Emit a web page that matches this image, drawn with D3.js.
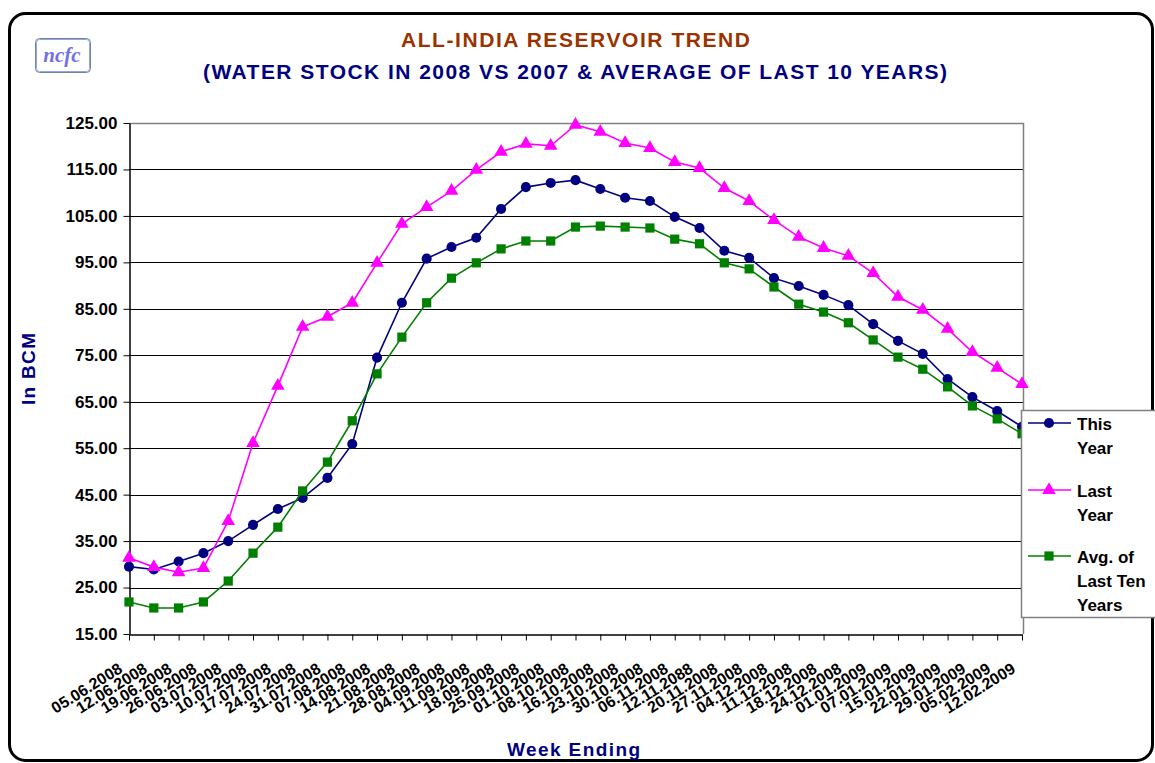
<!DOCTYPE html>
<html><head><meta charset="utf-8">
<script src="https://cdn.jsdelivr.net/npm/d3@7/dist/d3.min.js"></script>
<style>html,body{margin:0;padding:0;background:#fff;}svg{display:block;font-family:"Liberation Sans",Arial,sans-serif;}</style>
</head><body>
<svg id="c" width="1155" height="763"></svg>
<script>
const weeks = ["05.06.2008","12.06.2008","19.06.2008","26.06.2008","03.07.2008","10.07.2008","17.07.2008","24.07.2008","31.07.2008","07.08.2008","14.08.2008","21.08.2008","28.08.2008","04.09.2008","11.09.2008","18.09.2008","25.09.2008","01.10.2008","08.10.2008","16.10.2008","23.10.2008","30.10.2008","06.11.2008","12.11.2088","20.11.2008","27.11.2008","04.12.2008","11.12.2008","18.12.2008","24.12.2008","01.01.2009","07.01.2009","15.01.2009","22.01.2009","29.01.2009","05.02.2009","12.02.2009"];
const thisYear = [29.5,28.9,30.6,32.4,35.0,38.5,41.9,44.3,48.6,55.9,74.5,86.3,95.8,98.3,100.3,106.5,111.2,112.1,112.7,110.8,108.9,108.2,104.8,102.4,97.5,96.0,91.6,89.9,88.0,85.8,81.7,78.1,75.3,69.9,66.0,63.0,59.6];
const lastYear = [31.4,29.4,28.3,29.2,39.3,56.1,68.4,81.1,83.3,86.3,94.9,103.3,106.9,110.4,114.9,118.8,120.5,120.1,124.6,123.1,120.7,119.6,116.6,115.3,111.0,108.2,104.1,100.5,98.1,96.4,92.7,87.6,84.8,80.7,75.7,72.3,68.8];
const avgTen = [21.9,20.6,20.6,21.9,26.4,32.4,38.0,45.8,52.0,60.9,71.0,78.9,86.3,91.6,94.9,97.9,99.6,99.6,102.6,102.8,102.6,102.4,100.0,99.0,94.9,93.6,89.7,86.0,84.3,82.0,78.3,74.6,72.0,68.2,64.1,61.3,58.1];
const yTicks = [15,25,35,45,55,65,75,85,95,105,115,125];
const seriesNames = [["This","Year"],["Last","Year"],["Avg. of","Last Ten","Years"]];

const svg = d3.select("#c");
const L=129, R=1022, T=123, B=634;
const x = d3.scalePoint().domain(weeks).range([L,R]);
const y = d3.scaleLinear().domain([15,125]).range([B,T]);

// frame
svg.append("rect").attr("x",9.5).attr("y",13.5).attr("width",1143).attr("height",747).attr("rx",16)
  .attr("fill","none").attr("stroke","#000").attr("stroke-width",3);

// logo
svg.append("rect").attr("x",35.5).attr("y",38.5).attr("width",55).attr("height",34).attr("rx",4)
  .attr("fill","#fff").attr("stroke","#6c8a8a").attr("stroke-width",1);
svg.append("rect").attr("x",36.5).attr("y",39.5).attr("width",53).attr("height",32).attr("rx",3)
  .attr("fill","none").attr("stroke","#9aa0f0").attr("stroke-width",1);
svg.append("text").attr("x",62).attr("y",62).attr("text-anchor","middle")
  .attr("font-family","'Liberation Serif','DejaVu Serif',serif").attr("font-style","italic").attr("font-weight","bold")
  .attr("font-size",21).attr("fill","#7272e6").text("ncfc");

// titles
svg.append("text").attr("x",575.5).attr("y",47).attr("text-anchor","middle").attr("font-weight","bold")
  .attr("font-size",21).attr("fill","#993300").attr("textLength",349).attr("lengthAdjust","spacing")
  .text("ALL-INDIA RESERVOIR TREND");
svg.append("text").attr("x",575).attr("y",79).attr("text-anchor","middle").attr("font-weight","bold")
  .attr("font-size",21).attr("fill","#000080").attr("textLength",744).attr("lengthAdjust","spacing")
  .text("(WATER STOCK IN 2008 VS 2007 & AVERAGE OF LAST 10 YEARS)");

// gridlines
svg.append("g").selectAll("line").data(yTicks.filter(d=>d>15&&d<125)).join("line")
  .attr("x1",L).attr("x2",R+1).attr("y1",d=>Math.round(y(d))+0.5).attr("y2",d=>Math.round(y(d))+0.5)
  .attr("stroke","#000").attr("stroke-width",1);
// plot border top/right
svg.append("path").attr("d",`M${L},${T+0.5}H${R+1.5}V${B}`).attr("fill","none").attr("stroke","#808080").attr("stroke-width",1.5);

// axes
const yAxis = d3.axisLeft(y).tickValues(yTicks).tickFormat(d3.format(".2f")).tickSize(6).tickSizeOuter(0);
const gy = svg.append("g").attr("transform",`translate(${L+0.5},0)`).call(yAxis);
gy.select(".domain").attr("stroke","#000").attr("stroke-width",1.5);
gy.selectAll(".tick line").attr("stroke","#000");
gy.selectAll(".tick text").attr("font-size",17).attr("font-weight","bold").attr("fill","#000")
  .attr("font-family","'Liberation Sans',Arial,sans-serif").attr("x",-12);

const xAxis = d3.axisBottom(x).tickSize(6).tickSizeOuter(0);
const gx = svg.append("g").attr("transform",`translate(0,${B+0.5})`).call(xAxis);
gx.select(".domain").attr("stroke","#000").attr("stroke-width",1.5);
gx.selectAll(".tick line").attr("stroke","#000");
gx.selectAll(".tick text").attr("font-size",16).attr("font-weight","bold").attr("fill","#000")
  .attr("font-family","'Liberation Sans',Arial,sans-serif")
  .attr("text-anchor","end").attr("dy",0).attr("y",0)
  .attr("transform","translate(-6,37) rotate(-32)");

// axis titles
svg.append("text").attr("x",573.5).attr("y",756).attr("text-anchor","middle").attr("font-weight","bold")
  .attr("font-size",19).attr("fill","#000080").attr("textLength",133).attr("lengthAdjust","spacing").text("Week Ending");
svg.append("text").attr("transform","translate(35,369) rotate(-90)").attr("text-anchor","middle").attr("font-weight","bold")
  .attr("font-size",19).attr("fill","#000080").attr("textLength",72).attr("lengthAdjust","spacing").text("In BCM");

// series
const series = [
  {vals:thisYear, color:"#000080", sym:d3.symbolCircle, size:80},
  {vals:lastYear, color:"#ff00ff", sym:d3.symbolTriangle, size:80},
  {vals:avgTen, color:"#008000", sym:d3.symbolSquare, size:85}
];
const line = d3.line().x((d,i)=>x(weeks[i])).y(d=>y(d));
series.forEach(s=>{
  svg.append("path").attr("d",line(s.vals)).attr("fill","none").attr("stroke",s.color).attr("stroke-width",1.6);
  svg.append("g").selectAll("path").data(s.vals).join("path")
    .attr("d",d3.symbol().type(s.sym).size(s.size))
    .attr("transform",(d,i)=>`translate(${x(weeks[i])},${y(d)})`)
    .attr("fill",s.color);
});

// legend
const lg = svg.append("g");
lg.append("rect").attr("x",1021.5).attr("y",410.5).attr("width",150).attr("height",207)
  .attr("fill","#fff").attr("stroke","#808080").attr("stroke-width",1.5);
const ly = [423,490,556];
series.forEach((s,i)=>{
  lg.append("line").attr("x1",1028).attr("x2",1071).attr("y1",ly[i]).attr("y2",ly[i]).attr("stroke",s.color).attr("stroke-width",1.6);
  lg.append("path").attr("d",d3.symbol().type(s.sym).size(s.size)).attr("transform",`translate(1049,${ly[i]})`).attr("fill",s.color);
  seriesNames[i].forEach((t,j)=>{
    lg.append("text").attr("x",1077).attr("y",ly[i]+7+j*24).attr("font-size",17).attr("font-weight","bold")
      .attr("fill","#000").text(t);
  });
});
</script>
</body></html>
